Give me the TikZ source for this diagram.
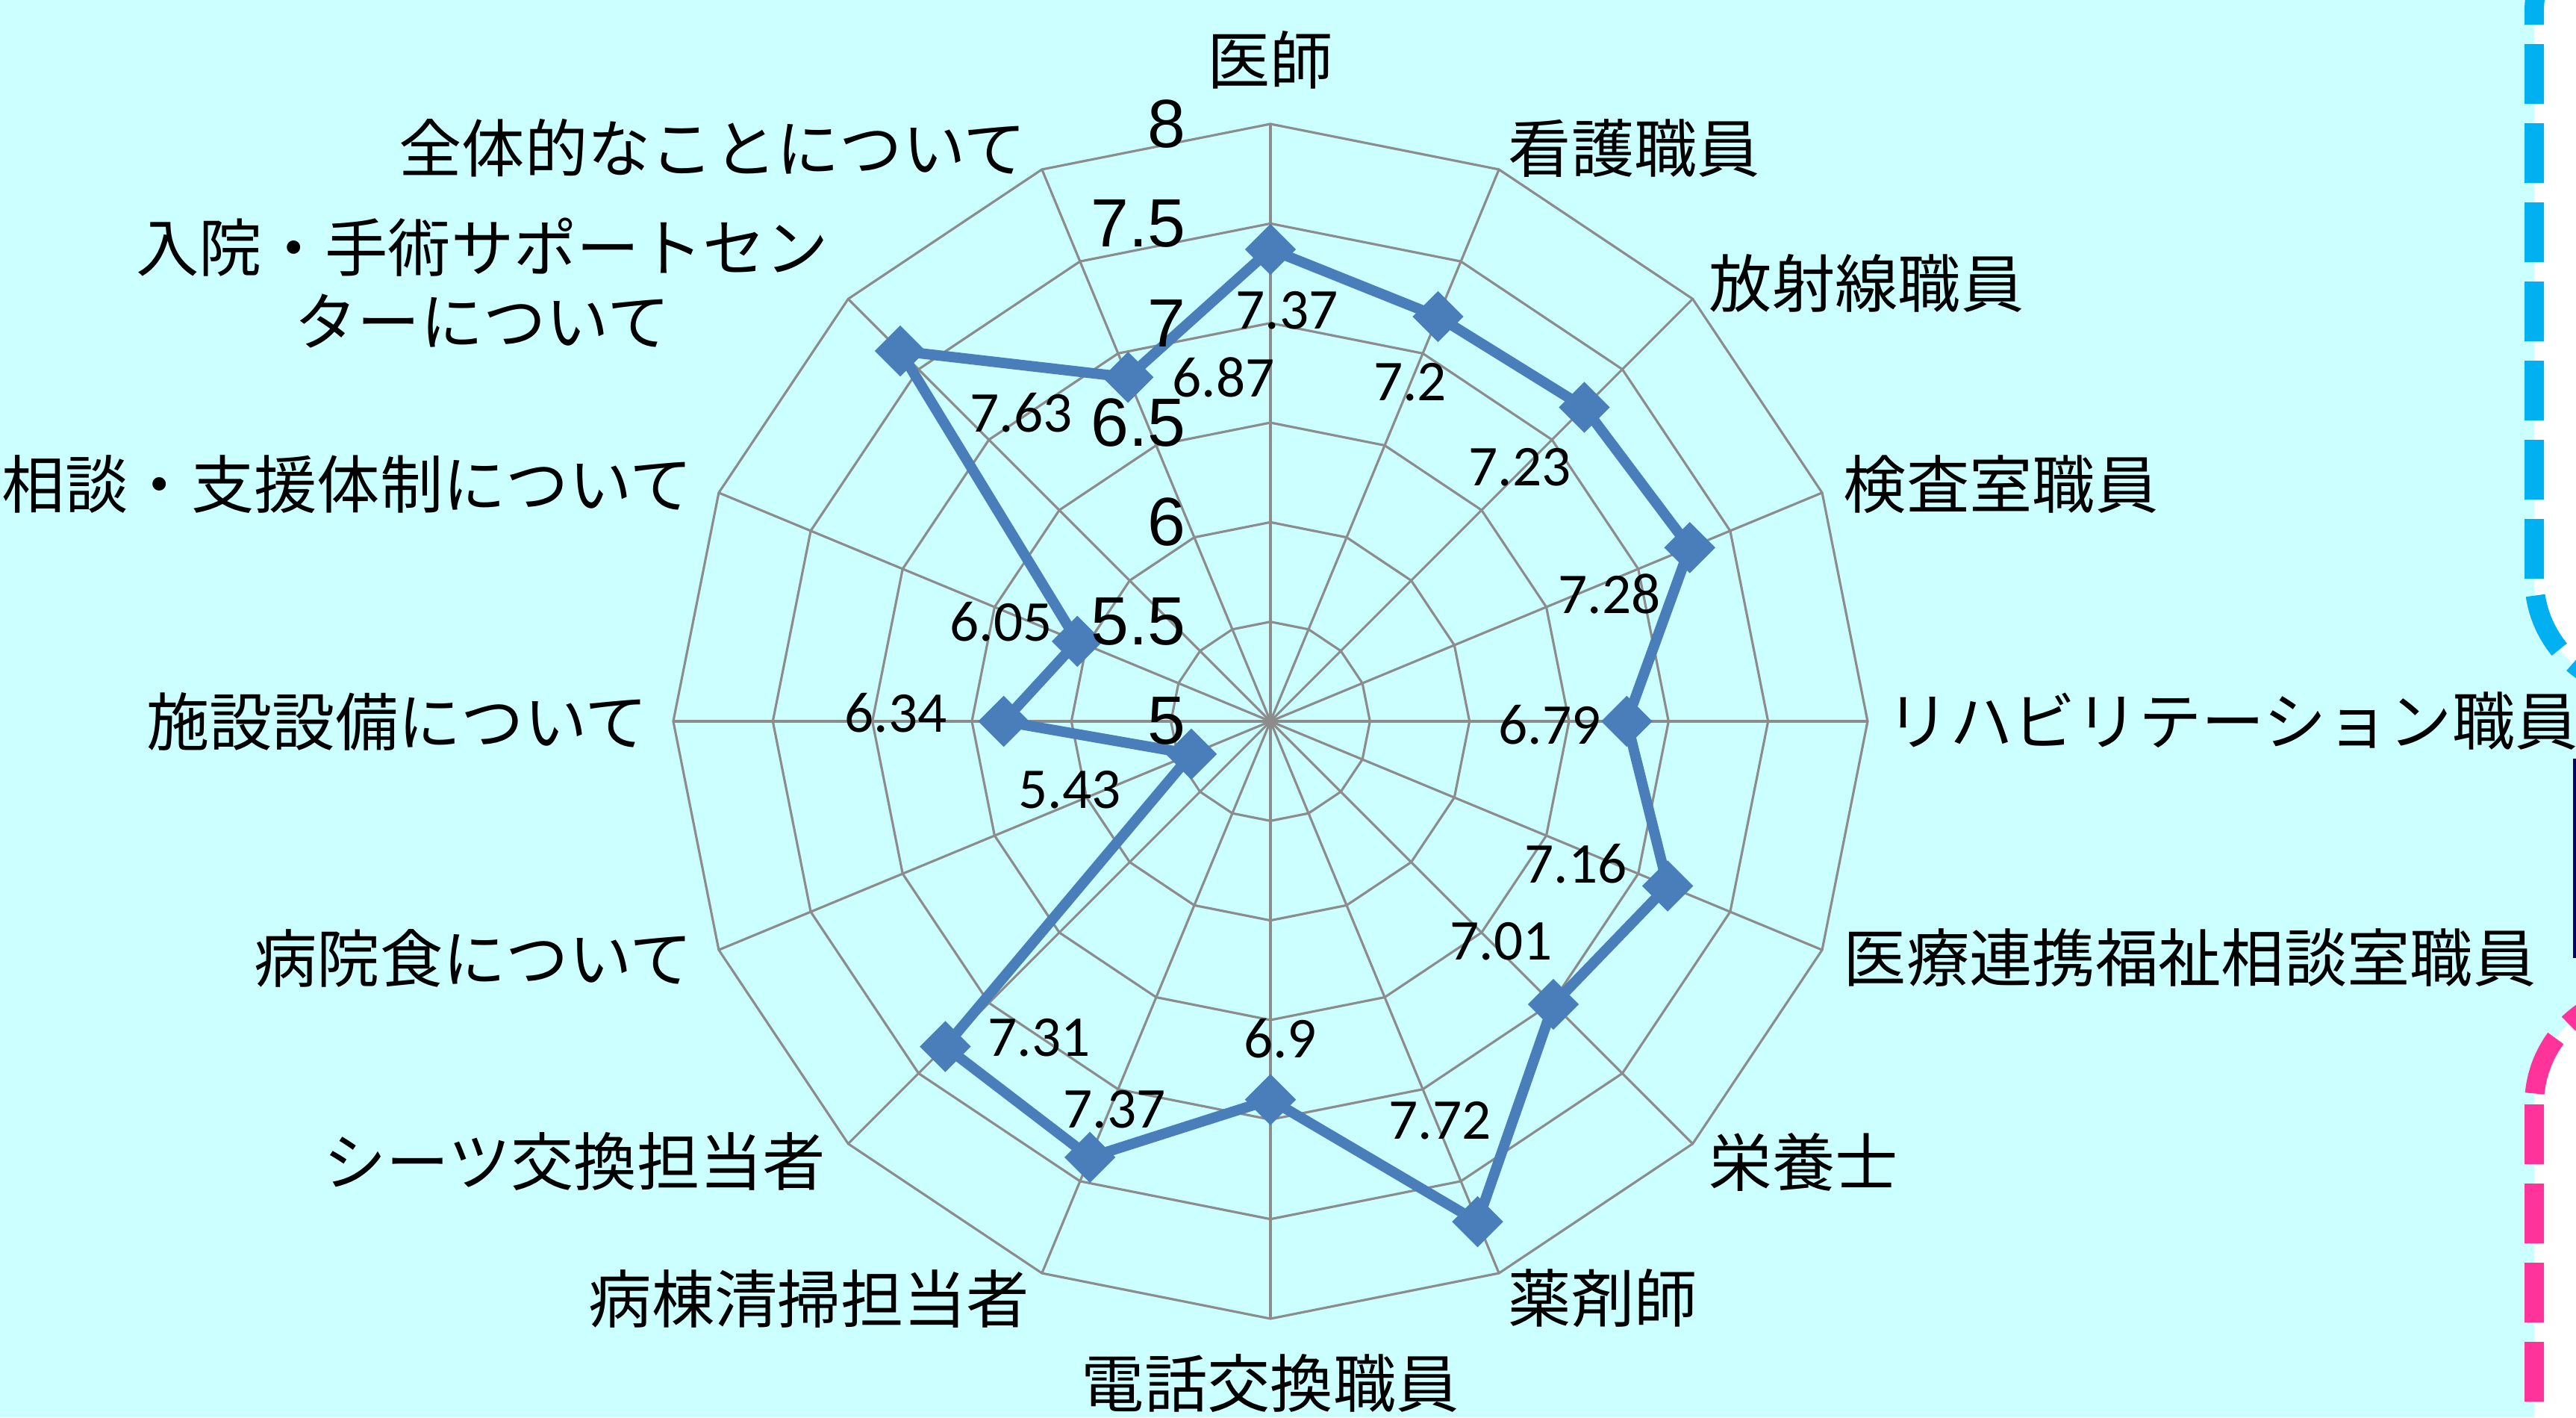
\documentclass[tikz,border=0pt]{standalone}
\usepackage{fontspec}
\setmainfont{Carlito}
\newfontfamily\jpfont{Noto Sans CJK JP}
\newfontfamily\tickfont{Liberation Sans}
\usetikzlibrary{shapes.geometric}
\definecolor{chartbg}{HTML}{CCFFFF}
\definecolor{gridgray}{HTML}{8C8C8C}
\definecolor{seriesblue}{HTML}{4A7EBB}
\definecolor{dashblue}{HTML}{00B0F0}
\definecolor{dashpink}{HTML}{FF3399}
\definecolor{navybar}{HTML}{000066}

\begin{document}
\begin{tikzpicture}
        \tikzset{%
         grid line/.style={
            draw=gridgray,
            line width=0.9pt},
         series line/.style={
            draw=seriesblue,
            line width=0.14cm,
            line join=round},
         marker/.style={
            diamond,
            fill=seriesblue,
            inner sep=0pt,
            minimum width=0.69cm,
            minimum height=0.69cm},
         value label/.style={
            font=\fontsize{22}{24}\selectfont,
            inner sep=0pt},
         tick label/.style={
            font=\tickfont\fontsize{26}{28}\selectfont,
            anchor=east,
            inner sep=0pt},
         cat label/.style={
            font=\jpfont\fontsize{24}{28}\selectfont,
            inner sep=0pt,
            align=center},
         side box/.style={
            line width=0.26cm,
            fill=white,
            rounded corners=1.5cm,
            dash pattern=on 0.8cm off 0.26cm},
        }
        \clip (-17.02,-9.32) rectangle (17.49,9.66);
        \fill [chartbg] (-17.02,-9.32) rectangle (17.49,9.66);

        % boxes cut off at the right edge
        \draw [side box, draw=dashblue] (16.93,0.41) rectangle (19,11);
        \draw [side box, draw=dashpink] (16.93,-3.63) rectangle (19,-11);
        \fill [navybar] (17.45,-0.5) rectangle (17.6,-3.17);

        % rings and spokes
        \foreach \r in {1,...,6}
            \draw [grid line] (90:\r*4/3) \foreach \k in {1,...,15} { -- (90-\k*22.5:\r*4/3) } -- cycle;
        \foreach \k in {0,...,15}
            \draw [grid line] (0,0) -- (90-\k*22.5:8);

        % series
        \foreach \v [count=\i] in {7.37,7.2,7.23,7.28,6.79,7.16,7.01,7.72,6.9,7.37,7.31,5.43,6.34,6.05,7.63,6.87}
            \coordinate (p-\i) at ({90-(\i-1)*22.5}:{(\v-5)*8/3});
        \draw [series line] (p-1) \foreach \i in {2,...,16} { -- (p-\i) } -- cycle;
        \foreach \i in {1,...,16}
            \node [marker] (m-\i) at (p-\i) {};

        \foreach \val/\x/\y [count=\i] in {7.37/0.22/5.50, 7.2/1.87/4.54, 7.23/3.34/3.40,
                7.28/4.54/1.71, 6.79/3.74/-0.05, 7.16/4.09/-1.91, 7.01/3.09/-2.95,
                7.72/2.27/-5.35, 6.9/0.13/-4.25, 7.37/-2.09/-5.20, 7.31/-3.10/-4.24,
                5.43/-2.69/-0.92, 6.34/-5.02/0.11, 6.05/-3.61/1.33, 7.63/-3.34/4.13,
                6.87/-0.63/4.61}
            \node [value label] (v-\i) at (\x,\y) {\val};

        \foreach \lbl [count=\k from 0] in {5,5.5,6,6.5,7,7.5,8}
            \node [tick label] (tick-\k) at (-1.13,\k*4/3) {\lbl};

        \foreach \x/\y/\a/\txt [count=\i] in {
                0/8.86/center/医師,
                3.18/7.68/west/看護職員,
                5.87/5.87/west/放射線職員,
                7.67/3.17/west/検査室職員,
                8.25/0/west/リハビリテーション職員,
                7.67/-3.17/west/医療連携福祉相談室職員,
                5.87/-5.90/west/栄養士,
                3.18/-7.73/west/薬剤師,
                0/-8.87/center/電話交換職員,
                -3.22/-7.73/east/病棟清掃担当者,
                -5.95/-5.90/east/シーツ交換担当者,
                -7.73/-3.17/east/病院食について,
                -8.33/0/east/施設設備について,
                -7.73/3.17/east/相談・支援体制について,
                -5.91/5.87/east/{入院・手術サポートセン\\ターについて},
                -3.26/7.68/east/全体的なことについて}
            \node [cat label, anchor=\a] (cat-\i) at (\x,\y) {\txt};
\end{tikzpicture}
\end{document}
